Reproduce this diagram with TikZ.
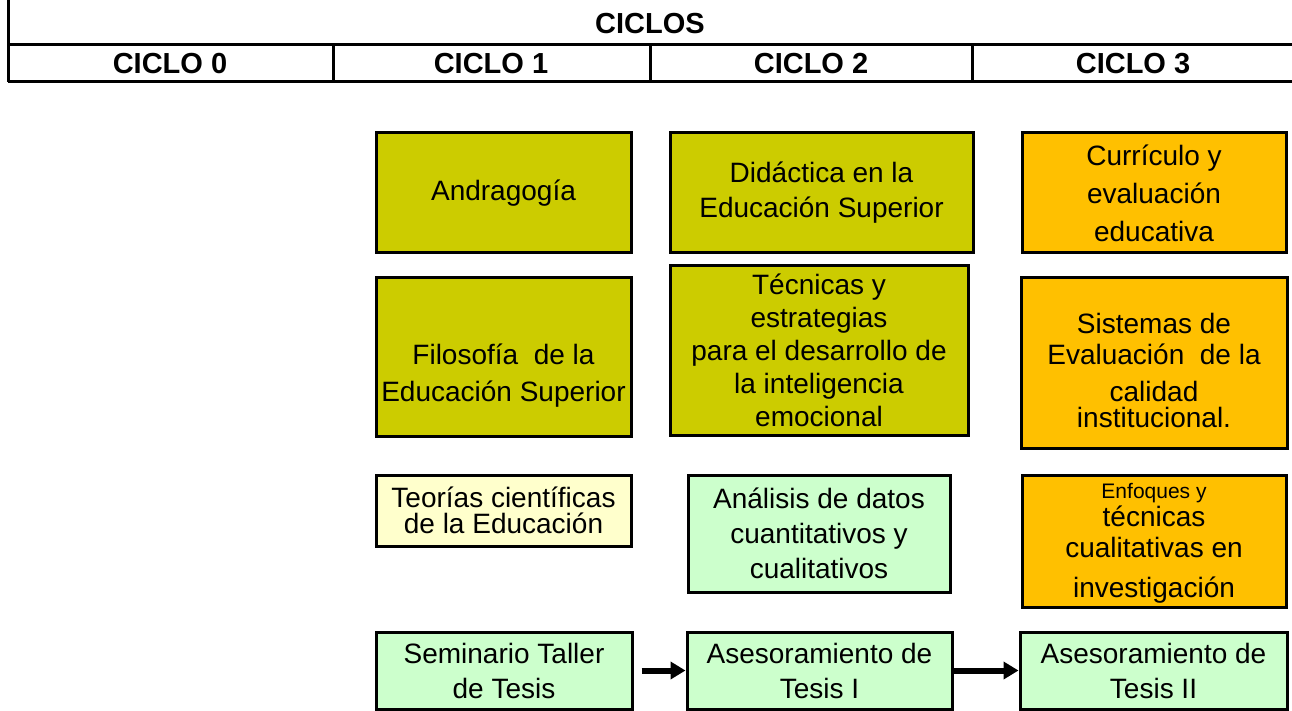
\documentclass[tikz,border=0pt]{standalone}
\usepackage{fontspec}
\setmainfont{Liberation Sans}
\usepackage{xcolor}
\usetikzlibrary{arrows.meta}

\definecolor{oliva}{HTML}{CCCC00}
\definecolor{naranja}{HTML}{FFC000}
\definecolor{crema}{HTML}{FFFFCC}
\definecolor{verde}{HTML}{CCFFCC}

\begin{document}
\begin{tikzpicture}[x=1pt, y=-1pt,
    curso/.style = {draw, line width=3pt, align=center, inner sep=0pt,
                    font=\fontsize{28}{35}\selectfont},
    ciclo/.style = {font=\bfseries\fontsize{29}{34}\selectfont},
    linea/.style = {line width=3pt}]
\useasboundingbox (0,0) rectangle (1292,711);

% cabecera
\draw[linea] (8,0) -- (8,82);
\draw[linea] (8,45) -- (1292,45) (8,82) -- (1292,82);
\foreach \x in {333,650,972}
    \draw[linea] (\x,45) -- (\x,82);

\node [ciclo] (ciclos) at (650,24) {CICLOS};
\node [ciclo] (c0) at (170,64) {CICLO 0};
\node [ciclo] (c1) at (491,64) {CICLO 1};
\node [ciclo] (c2) at (811,64) {CICLO 2};
\node [ciclo] (c3) at (1133,64) {CICLO 3};

% ciclo 1
\node [curso, fill=oliva, minimum width=255pt, minimum height=120pt] (andra) at (503.5,193) {Andragogía};
\node [curso, fill=oliva, minimum width=255pt, minimum height=159pt] (filo) at (503.5,356.5)
    {\mbox{}\\[24pt]Filosofía \ de la\\[2pt]Educación Superior};
\node [curso, fill=crema, minimum width=255pt, minimum height=71pt] (teor) at (503.5,510.5)
    {Teorías científicas\\[-9pt]de la Educación};
\node [curso, fill=verde, minimum width=256pt, minimum height=77pt] (semi) at (504,670.5)
    {Seminario Taller\\de Tesis};

% ciclo 2
\node [curso, fill=oliva, minimum width=303pt, minimum height=120pt] (didac) at (821.5,193)
    {Didáctica en la\\Educación Superior};
\node [curso, fill=oliva, minimum width=298pt, minimum height=170pt] (tecn) at (819,350)
    {Técnicas y\\[-2pt]estrategias\\[-2pt]para el desarrollo de\\[-2pt]la inteligencia\\[-2pt]emocional};
\node [curso, fill=verde, minimum width=262pt, minimum height=117pt] (anal) at (819,533.5)
    {Análisis de datos\\cuantitativos y\\cualitativos};
\node [curso, fill=verde, minimum width=265pt, minimum height=77pt] (ases1) at (819.5,670.5)
    {Asesoramiento de\\Tesis I};

% ciclo 3
\node [curso, fill=naranja, minimum width=264pt, minimum height=120pt] (curri) at (1154,193)
    {Currículo y\\[3pt]evaluación\\[3pt]educativa};
\node [curso, fill=naranja, minimum width=266pt, minimum height=171pt] (siste) at (1154,362.5)
    {\mbox{}\\[2pt]Sistemas de\\[-4pt]Evaluación \ de la\\[2pt]calidad\\[-9pt]institucional.};
\node [curso, fill=naranja, minimum width=264pt, minimum height=132pt] (enfo) at (1154,541)
    {\mbox{}\\[-16pt]{\fontsize{21}{24}\selectfont Enfoques y}\\[-7pt]técnicas\\[-4pt]cualitativas en\\[5pt]investigación};
\node [curso, fill=verde, minimum width=267pt, minimum height=77pt] (ases2) at (1153.5,670.5)
    {Asesoramiento de\\Tesis II};

\path[-{Triangle[length=15pt,width=17pt]}, line width=6pt]
    (semi) edge [shorten <=8pt] (ases1)
    (ases1) edge (ases2);
\end{tikzpicture}
\end{document}
